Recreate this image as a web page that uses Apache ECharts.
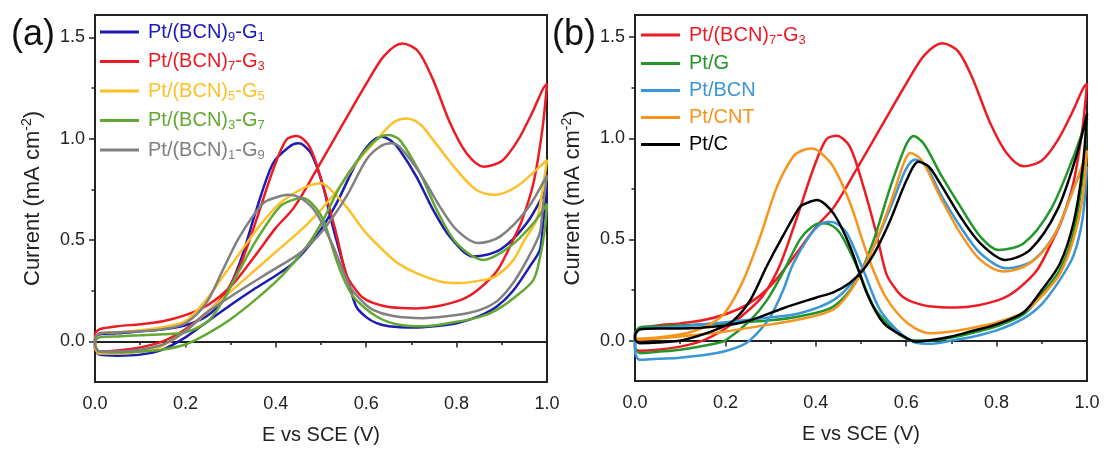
<!DOCTYPE html>
<html>
<head>
<meta charset="utf-8">
<script src="https://cdn.jsdelivr.net/npm/echarts@6/dist/echarts.min.js"></script>
<style>
html, body { margin: 0; padding: 0; background: #fff; }
#chart { width: 1104px; height: 450px; }
</style>
</head>
<body>
<div id="chart"></div>
<script>
// forward scan (0 -> 1.0 V) and reverse scan (1.0 -> 0 V), [E, current]
const redF = [[0,0.04],[0.01,0.06],[0.05,0.075],[0.1,0.085],[0.15,0.1],[0.2,0.13],[0.25,0.18],[0.3,0.27],[0.35,0.41],[0.4,0.56],[0.44,0.66],[0.49,0.846],[0.553,1.09],[0.6,1.27],[0.64,1.41],[0.68,1.47],[0.715,1.43],[0.748,1.29],[0.785,1.08],[0.822,0.928],[0.86,0.862],[0.9,0.89],[0.935,0.99],[0.97,1.141],[0.992,1.25],[1.0,1.27]];
const redR = [[0.99,1.05],[0.97,0.78],[0.945,0.6],[0.925,0.5],[0.89,0.35],[0.85,0.26],[0.815,0.21],[0.76,0.175],[0.71,0.163],[0.65,0.17],[0.615,0.19],[0.593,0.215],[0.575,0.26],[0.556,0.33],[0.534,0.53],[0.505,0.764],[0.475,0.96],[0.446,1.013],[0.423,0.994],[0.394,0.846],[0.357,0.6],[0.32,0.37],[0.283,0.222],[0.246,0.14],[0.2,0.06],[0.15,0.0],[0.1,-0.03],[0.05,-0.045],[0.01,-0.05],[0,-0.04]];

const blueF = [[0,-0.03],[0.01,-0.065],[0.05,-0.07],[0.1,-0.065],[0.15,-0.04],[0.2,0.02],[0.25,0.1],[0.3,0.18],[0.35,0.255],[0.4,0.325],[0.44,0.39],[0.49,0.52],[0.534,0.68],[0.578,0.88],[0.61,0.98],[0.634,1.01],[0.655,0.99],[0.674,0.944],[0.711,0.813],[0.748,0.649],[0.785,0.517],[0.837,0.419],[0.896,0.452],[0.955,0.583],[1.0,0.76]];
const blueR = [[0.99,0.55],[0.984,0.45],[0.962,0.37],[0.925,0.25],[0.889,0.172],[0.85,0.125],[0.8,0.09],[0.75,0.075],[0.704,0.069],[0.65,0.075],[0.623,0.09],[0.6,0.12],[0.578,0.172],[0.56,0.3],[0.542,0.435],[0.52,0.62],[0.505,0.764],[0.48,0.92],[0.46,0.97],[0.449,0.977],[0.43,0.96],[0.394,0.879],[0.357,0.649],[0.32,0.386],[0.283,0.205],[0.246,0.123],[0.2,0.08],[0.15,0.06],[0.1,0.05],[0.05,0.04],[0.01,0.035],[0,0.01]];

const yellowF = [[0,-0.03],[0.01,-0.06],[0.05,-0.06],[0.1,-0.05],[0.15,-0.02],[0.2,0.05],[0.246,0.14],[0.32,0.285],[0.394,0.43],[0.468,0.575],[0.527,0.72],[0.578,0.879],[0.623,0.994],[0.66,1.08],[0.69,1.1],[0.72,1.07],[0.748,0.994],[0.8,0.846],[0.844,0.747],[0.885,0.723],[0.933,0.764],[0.984,0.862],[1.0,0.895]];
const yellowR = [[0.99,0.75],[0.977,0.6],[0.95,0.5],[0.925,0.4],[0.885,0.32],[0.852,0.3],[0.807,0.288],[0.763,0.296],[0.711,0.337],[0.674,0.38],[0.652,0.419],[0.6,0.534],[0.556,0.665],[0.525,0.74],[0.501,0.78],[0.475,0.77],[0.453,0.747],[0.409,0.682],[0.357,0.55],[0.32,0.435],[0.283,0.32],[0.246,0.205],[0.2,0.1],[0.15,0.07],[0.1,0.055],[0.05,0.045],[0.01,0.04],[0,0.01]];

const greenAF = [[0,-0.02],[0.01,-0.05],[0.05,-0.055],[0.1,-0.05],[0.15,-0.04],[0.2,-0.015],[0.25,0.04],[0.3,0.11],[0.357,0.21],[0.416,0.33],[0.468,0.468],[0.505,0.6],[0.542,0.764],[0.593,0.928],[0.625,1.0],[0.648,1.018],[0.674,0.994],[0.719,0.83],[0.756,0.649],[0.8,0.485],[0.859,0.402],[0.918,0.468],[0.97,0.583],[1.0,0.68]];
const greenAR = [[0.995,0.55],[0.985,0.42],[0.97,0.304],[0.93,0.22],[0.889,0.156],[0.85,0.12],[0.8,0.097],[0.726,0.075],[0.68,0.08],[0.65,0.095],[0.623,0.123],[0.6,0.16],[0.571,0.222],[0.55,0.31],[0.534,0.402],[0.505,0.6],[0.48,0.68],[0.46,0.706],[0.44,0.7],[0.409,0.665],[0.357,0.5],[0.32,0.353],[0.283,0.2],[0.25,0.1],[0.2,0.045],[0.15,0.035],[0.1,0.03],[0.05,0.025],[0.01,0.02],[0,0.0]];

const grayF = [[0,-0.02],[0.01,-0.05],[0.05,-0.05],[0.1,-0.04],[0.15,-0.015],[0.2,0.05],[0.246,0.14],[0.32,0.25],[0.394,0.353],[0.453,0.435],[0.505,0.55],[0.556,0.714],[0.6,0.895],[0.63,0.96],[0.655,0.977],[0.674,0.96],[0.719,0.83],[0.763,0.665],[0.8,0.55],[0.848,0.485],[0.896,0.517],[0.955,0.649],[1.0,0.82]];
const grayR = [[0.99,0.65],[0.984,0.534],[0.96,0.42],[0.925,0.288],[0.89,0.2],[0.852,0.156],[0.8,0.13],[0.726,0.115],[0.66,0.125],[0.615,0.156],[0.59,0.2],[0.564,0.271],[0.527,0.468],[0.49,0.632],[0.46,0.7],[0.427,0.723],[0.4,0.71],[0.372,0.682],[0.32,0.517],[0.283,0.353],[0.246,0.189],[0.2,0.09],[0.15,0.06],[0.1,0.05],[0.05,0.045],[0.01,0.04],[0,0.01]];

const ptgF = [[0,0.03],[0.01,0.065],[0.05,0.07],[0.1,0.075],[0.2,0.085],[0.3,0.1],[0.365,0.12],[0.439,0.168],[0.491,0.3],[0.528,0.497],[0.565,0.76],[0.6,0.97],[0.616,1.011],[0.64,0.97],[0.675,0.827],[0.72,0.662],[0.764,0.514],[0.804,0.448],[0.86,0.481],[0.919,0.645],[0.97,0.909],[1.0,1.1]];
const ptgR = [[0.99,0.8],[0.97,0.53],[0.94,0.35],[0.9,0.23],[0.86,0.13],[0.8,0.07],[0.75,0.04],[0.7,0.015],[0.65,0.0],[0.62,0.0],[0.6,0.01],[0.572,0.053],[0.528,0.168],[0.491,0.366],[0.454,0.53],[0.43,0.575],[0.41,0.58],[0.39,0.56],[0.365,0.5],[0.328,0.34],[0.292,0.2],[0.255,0.1],[0.2,0.0],[0.181,-0.013],[0.1,-0.045],[0.05,-0.055],[0.01,-0.062],[0,-0.03]];

const ptbcnF = [[0,0.02],[0.01,0.055],[0.05,0.065],[0.1,0.07],[0.2,0.09],[0.3,0.115],[0.365,0.135],[0.439,0.2],[0.491,0.316],[0.528,0.464],[0.572,0.695],[0.6,0.85],[0.62,0.896],[0.645,0.86],[0.675,0.728],[0.72,0.563],[0.764,0.432],[0.823,0.357],[0.882,0.399],[0.934,0.547],[0.978,0.794],[1.0,0.86]];
const ptbcnR = [[0.99,0.6],[0.97,0.42],[0.94,0.3],[0.9,0.18],[0.86,0.11],[0.8,0.05],[0.75,0.02],[0.7,0.0],[0.653,-0.016],[0.62,-0.01],[0.587,0.036],[0.542,0.152],[0.505,0.349],[0.469,0.53],[0.445,0.58],[0.428,0.588],[0.41,0.575],[0.387,0.52],[0.35,0.38],[0.328,0.25],[0.3,0.12],[0.27,0.036],[0.24,-0.02],[0.181,-0.062],[0.1,-0.085],[0.05,-0.09],[0.01,-0.095],[0,-0.05]];

const ptcntF = [[0,0.0],[0.01,0.005],[0.05,0.01],[0.1,0.02],[0.2,0.045],[0.3,0.08],[0.365,0.105],[0.44,0.155],[0.483,0.267],[0.528,0.464],[0.565,0.679],[0.595,0.88],[0.609,0.928],[0.635,0.89],[0.675,0.711],[0.72,0.53],[0.764,0.399],[0.815,0.341],[0.874,0.382],[0.926,0.514],[0.978,0.794],[1.0,0.94]];
const ptcntR = [[0.99,0.7],[0.97,0.5],[0.94,0.33],[0.9,0.22],[0.86,0.14],[0.8,0.09],[0.75,0.065],[0.7,0.045],[0.653,0.036],[0.62,0.06],[0.587,0.119],[0.55,0.234],[0.513,0.432],[0.476,0.679],[0.439,0.859],[0.41,0.93],[0.391,0.95],[0.37,0.94],[0.35,0.91],[0.314,0.76],[0.277,0.514],[0.24,0.3],[0.2,0.14],[0.166,0.08],[0.12,0.04],[0.05,0.015],[0.01,0.01],[0,0.005]];

const ptcF = [[0,0.03],[0.01,0.055],[0.05,0.06],[0.1,0.06],[0.2,0.075],[0.255,0.1],[0.328,0.16],[0.4,0.212],[0.44,0.24],[0.475,0.285],[0.505,0.35],[0.535,0.455],[0.565,0.596],[0.601,0.794],[0.627,0.884],[0.65,0.86],[0.675,0.777],[0.72,0.612],[0.764,0.481],[0.819,0.399],[0.874,0.448],[0.934,0.645],[0.978,0.925],[1.0,1.123]];
const ptcR = [[0.99,0.85],[0.97,0.58],[0.94,0.38],[0.9,0.25],[0.86,0.14],[0.8,0.08],[0.75,0.05],[0.7,0.02],[0.65,0.0],[0.62,-0.005],[0.601,0.012],[0.55,0.086],[0.513,0.234],[0.476,0.464],[0.439,0.629],[0.402,0.695],[0.38,0.68],[0.365,0.662],[0.328,0.52],[0.292,0.37],[0.255,0.2],[0.218,0.1],[0.181,0.055],[0.107,0.003],[0.05,-0.01],[0.01,-0.013],[0,0.01]];

const yMajor = [0, 0.5, 1.0, 1.5];
const yMinor = [0.25, 0.75, 1.25];

const labels = {
    'Pt/(BCN)9-G1': 'Pt/(BCN){s|9}-G{s|1}',
    'Pt/(BCN)7-G3': 'Pt/(BCN){s|7}-G{s|3}',
    'Pt/(BCN)5-G5': 'Pt/(BCN){s|5}-G{s|5}',
    'Pt/(BCN)3-G7': 'Pt/(BCN){s|3}-G{s|7}',
    'Pt/(BCN)1-G9': 'Pt/(BCN){s|1}-G{s|9}',
    'Pt/G': 'Pt/G',
    'Pt/BCN': 'Pt/BCN',
    'Pt/CNT': 'Pt/CNT',
    'Pt/C': 'Pt/C'
};

const font = '"Liberation Sans", Arial, sans-serif';
const loop = (f, r) => f.concat(r, [f[0]]);

const mkSeries = (name, f, r, color, xi, yi) => ({
    name: name,
    type: 'line',
    xAxisIndex: xi,
    yAxisIndex: yi,
    data: loop(f, r),
    smooth: 0.3,
    symbol: 'none',
    lineStyle: { color: color, width: 2.5 },
    itemStyle: { color: color },
    silent: true
});

const mkX = (gi) => ({
    type: 'value', gridIndex: gi, min: 0, max: 1, interval: 0.2,
    name: 'E vs SCE (V)', nameLocation: 'middle', nameGap: 43,
    nameTextStyle: { fontSize: 20, color: '#222', fontFamily: font },
    axisLine: { lineStyle: { color: '#222', width: 2 } },
    axisTick: { length: 6, lineStyle: { color: '#222', width: 1.5 } },
    minorTick: { show: true, splitNumber: 2, length: 3.5, lineStyle: { color: '#222', width: 1.5 } },
    axisLabel: { fontSize: 18, color: '#222', fontFamily: font, margin: 13, formatter: v => v.toFixed(1) },
    splitLine: { show: false }
});

const mkY = (gi) => ({
    type: 'value', gridIndex: gi, min: -0.2, max: 1.61,
    name: 'Current (mA cm{sup|-2})', nameLocation: 'middle', nameGap: 50,
    nameTextStyle: { fontSize: 22, color: '#222', fontFamily: font,
        rich: { sup: { fontSize: 14, padding: [0, 0, 11, 0], color: '#222', fontFamily: font } } },
    axisLine: { show: true, lineStyle: { color: '#222', width: 2 } },
    axisTick: { length: 6, customValues: yMajor, lineStyle: { color: '#222', width: 1.5 } },
    axisLabel: { fontSize: 18, color: '#222', fontFamily: font, margin: 10, customValues: yMajor, formatter: v => v.toFixed(1) },
    splitLine: { show: false }
});

// second left axis on the same scale, only for the short minor ticks
const mkYMinor = (gi) => ({
    type: 'value', gridIndex: gi, min: -0.2, max: 1.61, position: 'left',
    axisLine: { show: true, lineStyle: { color: '#222', width: 2 } },
    axisTick: { show: true, length: 3.5, customValues: yMinor, lineStyle: { color: '#222', width: 1.5 } },
    axisLabel: { show: true, customValues: yMinor, formatter: () => '' },
    splitLine: { show: false }
});

const mkLegend = (left, top, gap, items) => ({
    orient: 'vertical',
    left: left,
    top: top,
    padding: 0,
    icon: 'rect',
    itemWidth: 39,
    itemHeight: 3,
    itemGap: gap,
    data: items.map(i => ({ name: i[0], textStyle: { color: i[1] } })),
    formatter: n => labels[n],
    textStyle: { fontSize: 20, fontFamily: font, padding: [0, 0, 0, 4],
        rich: { s: { fontSize: 13, padding: [10, 0, 0, 0], fontFamily: font } } }
});

const cBlue = '#1c1cb4', cRed = '#ec1c24', cYellow = '#fcc02a', cGreenA = '#62a832', cGray = '#808080';
const cGreenB = '#21962a', cBlueB = '#3a96d6', cOrange = '#f7941d', cBlack = '#000000';

const chart = echarts.init(document.getElementById('chart'));
chart.setOption({
    animation: false,
    backgroundColor: '#fff',
    title: [
        { text: '(a)', left: 6, top: 12, textStyle: { fontSize: 36, fontWeight: 'normal', color: '#111', fontFamily: font } },
        { text: '(b)', left: 547, top: 12, textStyle: { fontSize: 36, fontWeight: 'normal', color: '#111', fontFamily: font } }
    ],
    grid: [
        { left: 95, right: 557, top: 15, bottom: 68, show: true, borderColor: '#222', borderWidth: 2 },
        { left: 635, right: 17, top: 15, bottom: 69, show: true, borderColor: '#222', borderWidth: 2 }
    ],
    legend: [
        mkLegend(100, 22, 8, [['Pt/(BCN)9-G1', cBlue], ['Pt/(BCN)7-G3', cRed], ['Pt/(BCN)5-G5', cYellow], ['Pt/(BCN)3-G7', cGreenA], ['Pt/(BCN)1-G9', cGray]]),
        mkLegend(641, 25, 7, [['Pt/(BCN)7-G3', cRed], ['Pt/G', cGreenB], ['Pt/BCN', cBlueB], ['Pt/CNT', cOrange], ['Pt/C', cBlack]])
    ],
    xAxis: [mkX(0), mkX(1)],
    yAxis: [mkY(0), mkYMinor(0), mkY(1), mkYMinor(1)],
    series: [
        mkSeries('Pt/(BCN)9-G1', blueF, blueR, cBlue, 0, 0),
        mkSeries('Pt/(BCN)7-G3', redF, redR, cRed, 0, 0),
        mkSeries('Pt/(BCN)5-G5', yellowF, yellowR, cYellow, 0, 0),
        mkSeries('Pt/(BCN)3-G7', greenAF, greenAR, cGreenA, 0, 0),
        mkSeries('Pt/(BCN)1-G9', grayF, grayR, cGray, 0, 0),
        mkSeries('Pt/(BCN)7-G3', redF, redR, cRed, 1, 2),
        mkSeries('Pt/G', ptgF, ptgR, cGreenB, 1, 2),
        mkSeries('Pt/BCN', ptbcnF, ptbcnR, cBlueB, 1, 2),
        mkSeries('Pt/CNT', ptcntF, ptcntR, cOrange, 1, 2),
        mkSeries('Pt/C', ptcF, ptcR, cBlack, 1, 2)
    ]
});
window.addEventListener('resize', () => chart.resize());
</script>
</body>
</html>
